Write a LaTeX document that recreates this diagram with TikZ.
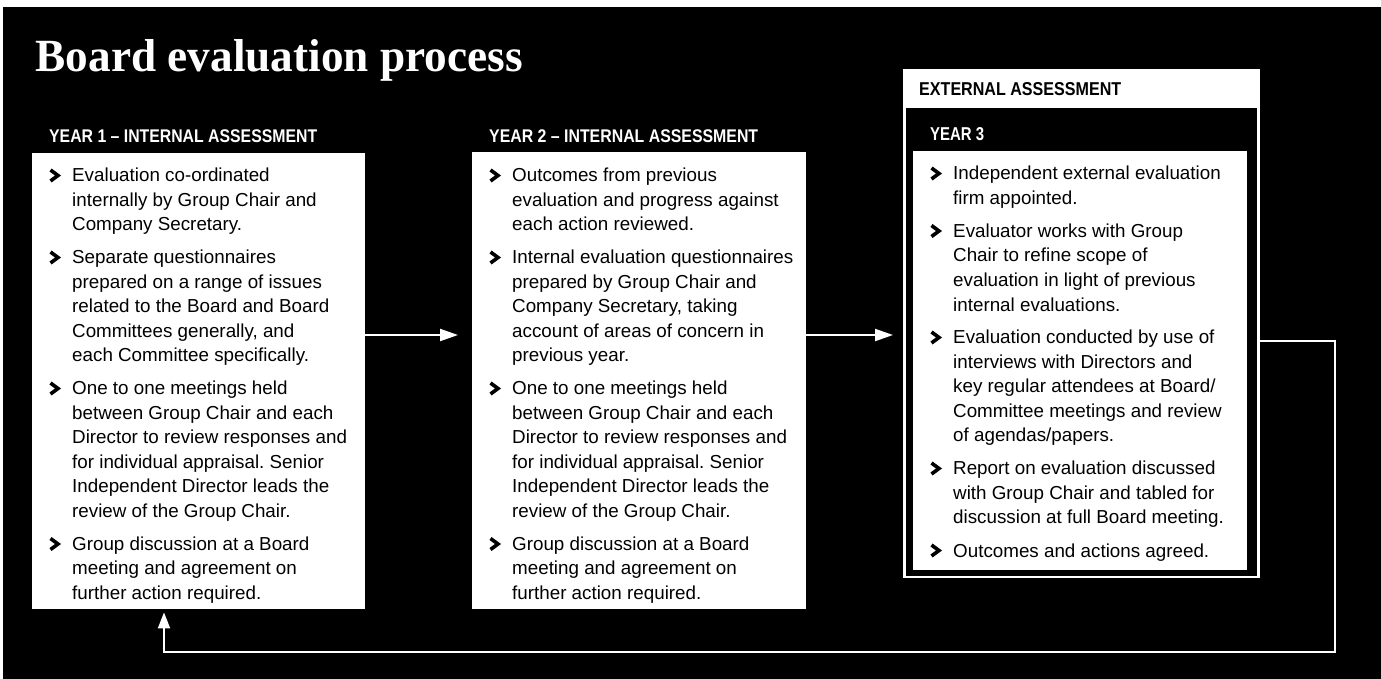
\documentclass[tikz,border=0pt]{standalone}
\usepackage{fontspec}
\usepackage{graphicx}
\setmainfont{Liberation Sans}
\newfontfamily\titlefont{Liberation Serif}
\usetikzlibrary{arrows.meta}
\tikzset{
  whitebox/.style={fill=white, draw=none, inner sep=0pt, anchor=north west},
  blackbox/.style={fill=black, draw=none, inner sep=0pt, anchor=north west},
  conn/.style={draw=white, line width=2pt, -{Triangle[length=18pt,width=12pt]}},
  loopline/.style={draw=white, line width=2pt, -{Triangle[length=16pt,width=12pt]}},
  chev/.style={line width=3.6pt, draw=black, miter limit=10},
  hdr/.style={inner sep=0pt, anchor=base west, text=white},
  body/.style={inner sep=0pt, anchor=base west, text=black},
  chevron/.pic={\draw[chev] (0,-12) -- (7.5,-6.5) -- (0,-1);}
}
\newcommand\hdrtext[3]{\resizebox{#1pt}{#2pt}{\bfseries #3}}
\newcommand\bodytext[1]{\parbox[t]{320pt}{\fontsize{18.8pt}{24.5pt}\selectfont\frenchspacing\raggedright\setlength\parskip{8.5pt}\lineskiplimit=-50pt\relax #1}}
\begin{document}
\begin{tikzpicture}[x=1pt,y=-1pt]
\useasboundingbox (0,0) rectangle (1381,679);
\fill[white] (0,0) rectangle (1381,679);
\fill[black] (3,7) rectangle (1381,679);

\node[hdr] (title) at (35.5,72) {\resizebox{487pt}{32pt}{\titlefont\bfseries Board evaluation process}};

\node[hdr] (h1) at (49,142.5) {\hdrtext{268}{12.8}{YEAR 1 – INTERNAL ASSESSMENT}};
\node[hdr] (h2) at (489,142.5) {\hdrtext{269}{12.8}{YEAR 2 – INTERNAL ASSESSMENT}};

% boxes
\node[whitebox, minimum width=333pt, minimum height=456pt] (b1) at (32,153) {};
\node[whitebox, minimum width=334pt, minimum height=457pt] (b2) at (472,152) {};
\node[whitebox, minimum width=357pt, minimum height=509pt] (y3o) at (903,69) {};
\node[blackbox, minimum width=351pt, minimum height=468pt] (y3i) at (906,108) {};
\node[whitebox, minimum width=334pt, minimum height=419pt] (b3) at (913,151) {};

\node[hdr, text=black] (ext) at (919,96) {\hdrtext{202}{13}{EXTERNAL ASSESSMENT}};
\node[hdr] (h3) at (930,140.5) {\hdrtext{54}{13}{YEAR 3}};

% texts
\node[body] (t1) at (72,182) {\bodytext{%
Evaluation co-ordinated\\ internally by Group Chair and\\ Company Secretary.\par
Separate questionnaires\\ prepared on a range of issues\\ related to the Board and Board\\ Committees generally, and\\ each Committee specifically.\par
One to one meetings held\\ between Group Chair and each\\ Director to review responses and\\ for individual appraisal. Senior\\ Independent Director leads the\\ review of the Group Chair.\par
Group discussion at a Board\\ meeting and agreement on\\ further action required.}};

\node[body] (t2) at (512,182) {\bodytext{%
Outcomes from previous\\ evaluation and progress against\\ each action reviewed.\par
Internal evaluation questionnaires\\ prepared by Group Chair and\\ Company Secretary, taking\\ account of areas of concern in\\ previous year.\par
One to one meetings held\\ between Group Chair and each\\ Director to review responses and\\ for individual appraisal. Senior\\ Independent Director leads the\\ review of the Group Chair.\par
Group discussion at a Board\\ meeting and agreement on\\ further action required.}};

\node[body] (t3) at (953,180) {\bodytext{%
Independent external evaluation\\ firm appointed.\par
Evaluator works with Group\\ Chair to refine scope of\\ evaluation in light of previous\\ internal evaluations.\par
Evaluation conducted by use of\\ interviews with Directors and\\ key regular attendees at Board/\\ Committee meetings and review\\ of agendas/papers.\par
Report on evaluation discussed\\ with Group Chair and tabled for\\ discussion at full Board meeting.\par
Outcomes and actions agreed.}};

% chevrons
\foreach \y in {182,264,395,550.5} {\pic at (50.5,\y) {chevron}; \pic at (490.5,\y) {chevron};}
\foreach \y in {180,237.5,344,475,557} {\pic at (931.5,\y) {chevron};}

% connectors
\coordinate (ar) at (0,335);
\draw[conn, shorten >=14pt] (b1.east |- ar) -- (b2.west |- ar);
\draw[conn, shorten >=10pt] (b2.east |- ar) -- (y3o.west |- ar);

\coordinate (la) at (1335,341);
\coordinate (lb) at (1335,652);
\coordinate (lc) at (164,652);
\draw[loopline, shorten >=3pt] (y3o.east |- la) -- (la) -- (lb) -- (lc) -- (lc |- b1.south);
\end{tikzpicture}
\end{document}
